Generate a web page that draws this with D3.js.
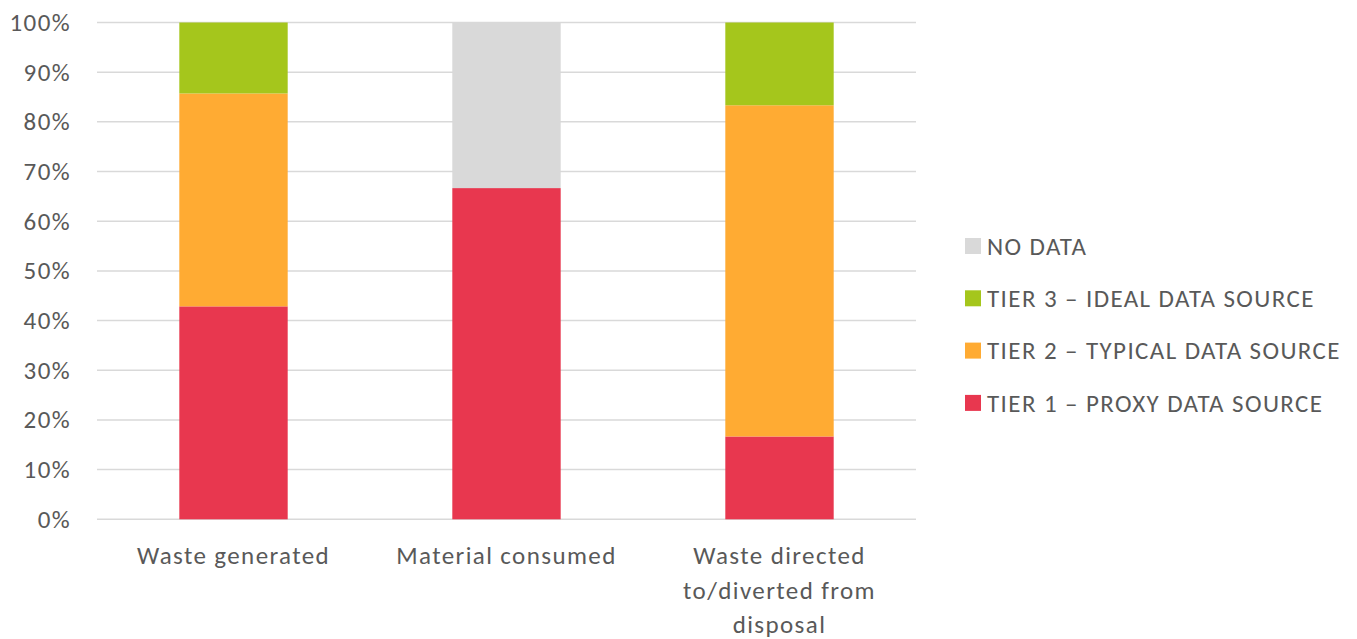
<!DOCTYPE html>
<html>
<head>
<meta charset="utf-8">
<script src="https://cdn.jsdelivr.net/npm/d3@7"></script>
<style>
  body { margin: 0; background: #fff; }
  text { font-family: Calibri, Carlito, Lato, sans-serif; fill: #595959; letter-spacing: 1.4px; }
</style>
</head>
<body>
<div id="chart"></div>
<script>
// data (shares of 1)
var categories = ["Waste generated", "Material consumed", "Waste directed to/diverted from disposal"];
var categoryLines = [["Waste generated"], ["Material consumed"], ["Waste directed", "to/diverted from", "disposal"]];
var seriesNames = ["TIER 1 \u2013 PROXY DATA SOURCE", "TIER 2 \u2013 TYPICAL DATA SOURCE", "TIER 3 \u2013 IDEAL DATA SOURCE", "NO DATA"];
var seriesColors = ["#E8374F", "#FFAB33", "#A5C61C", "#D9D9D9"];
var tier1 = [0.4286, 0.6667, 0.1667];
var tier2 = [0.4286, 0, 0.6667];
var tier3 = [0.1428, 0, 0.1666];
var noData = [0, 0.3333, 0];
var yTicks = [0, 0.1, 0.2, 0.3, 0.4, 0.5, 0.6, 0.7, 0.8, 0.9, 1];

var w = 1357, h = 639;
var plotLeft = 97, plotRight = 916, plotTop = 22.5, plotBottom = 519.3;
var fontSize = 25;

var svg = d3.select("#chart").append("svg")
  .attr("width", w)
  .attr("height", h);

var x = d3.scaleBand()
  .domain(categories)
  .range([plotLeft, plotRight])
  .paddingInner(0.603)
  .paddingOuter(0.3015);

var y = d3.scaleLinear()
  .domain([0, 1])
  .range([plotBottom, plotTop]);

// gridlines
svg.append("g")
  .selectAll("line")
  .data(yTicks)
  .enter()
  .append("line")
  .attr("x1", plotLeft)
  .attr("x2", plotRight)
  .attr("y1", function(d){ return y(d); })
  .attr("y2", function(d){ return y(d); })
  .attr("stroke", "#D9D9D9")
  .attr("stroke-width", 1.5);

// y axis labels
var yAxis = d3.axisLeft(y)
  .tickValues(yTicks)
  .tickFormat(d3.format(".0%"))
  .tickSize(0)
  .tickPadding(26);
var yg = svg.append("g")
  .attr("transform", "translate(" + plotLeft + ",0)")
  .call(yAxis);
yg.select(".domain").remove();
yg.selectAll("text")
  .attr("font-size", fontSize)
  .style("font-family", "Calibri, Carlito, Lato, sans-serif")
  .attr("fill", "#595959");

// stacked bars
var rows = categories.map(function(c, i){
  return { cat: c, t1: tier1[i], t2: tier2[i], t3: tier3[i], nd: noData[i] };
});
var stack = d3.stack().keys(["t1", "t2", "t3", "nd"]);
var layers = stack(rows);

svg.append("g")
  .selectAll("g")
  .data(layers)
  .enter()
  .append("g")
  .attr("fill", function(d, i){ return seriesColors[i]; })
  .selectAll("rect")
  .data(function(d){ return d; })
  .enter()
  .append("rect")
  .attr("x", function(d){ return x(d.data.cat); })
  .attr("width", x.bandwidth())
  .attr("y", function(d){ return y(d[1]); })
  .attr("height", function(d){ return y(d[0]) - y(d[1]); });

// category labels
var cl = svg.append("g")
  .selectAll("text")
  .data(categories)
  .enter()
  .append("text")
  .attr("text-anchor", "middle")
  .attr("font-size", fontSize)
  .attr("x", function(d){ return x(d) + x.bandwidth() / 2; })
  .attr("y", 564);
cl.selectAll("tspan")
  .data(function(d, i){ return categoryLines[i]; })
  .enter()
  .append("tspan")
  .attr("x", function(){ return this.parentNode.getAttribute("x"); })
  .attr("dy", function(d, i){ return i === 0 ? 0 : 34.5; })
  .text(function(d){ return d; });

// legend (top to bottom: reverse of stack)
var legendOrder = [3, 2, 1, 0];
var lg = svg.append("g")
  .selectAll("g")
  .data(legendOrder)
  .enter()
  .append("g")
  .attr("transform", function(d, i){ return "translate(965," + (246 + i * 52.3) + ")"; });
lg.append("rect")
  .attr("x", 0)
  .attr("y", -8)
  .attr("width", 16)
  .attr("height", 16)
  .attr("fill", function(d){ return seriesColors[d]; });
lg.append("text")
  .attr("x", 22)
  .attr("y", 0)
  .attr("dy", "0.35em")
  .attr("font-size", fontSize)
  .text(function(d){ return seriesNames[d]; });
</script>
</body>
</html>
